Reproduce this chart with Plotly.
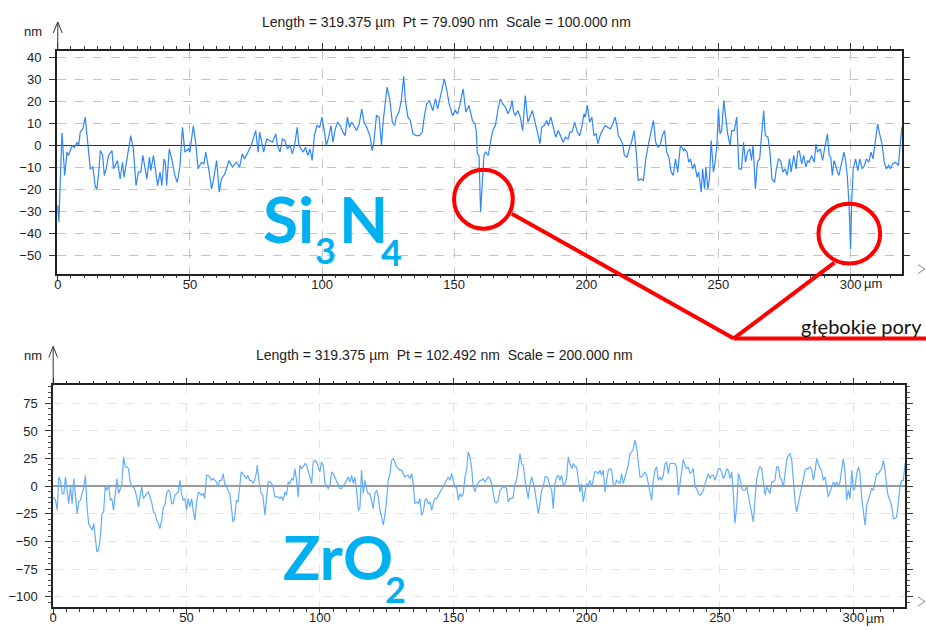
import plotly.graph_objects as go

# ---------------- data ----------------
# Si3N4 profile: position along scan [µm] and height [nm]
si_x = [
    0, 0.4, 1.6, 2.6, 3.5, 4.1, 5.4, 6.3, 7.3, 7.9,
    8.5, 9.5, 10.4, 10.8, 11.3, 12.3, 13.3, 14.2, 14.8, 15.5,
    16.1, 17.0, 17.6, 18.3, 19.2, 20.5, 21.1, 22.1, 22.6, 23.6,
    24.5, 25.1, 26.4, 27.6, 28.6, 29.6, 30.5, 31.4, 32.2, 33.7,
    34.7, 35.2, 36.2, 37.8, 38.7, 39.4, 40.2, 40.7, 41.2, 42.2,
    43.1, 44.3, 45.2, 46.2, 47.2, 48.1, 49.4, 50.0, 51.3, 52.3,
    53.1, 54.4, 55.3, 56.0, 57.3, 58.2, 59.0, 60.1, 61.1, 61.9,
    63.2, 64.8, 66.1, 67.6, 68.8, 69.8, 70.7, 72.0, 73.2, 74.9,
    75.8, 76.4,
    77.9, 79.1, 80.0, 81.25, 82.5, 83.1, 84.1, 85.0, 85.9, 86.9,
    87.9, 88.75, 89.6, 90.6, 91.25, 92.1, 92.9, 93.75, 94.6, 95.4,
    96.25, 97.1, 98.1, 99.1, 100, 100.9, 101.6, 102.5, 103.4, 104.1,
    105, 105.9, 106.9, 107.9, 108.75, 109.6, 110.4, 111.25, 112.1, 113.1,
    114.1, 115, 115.9, 116.9, 118.1, 119, 119.6, 120.6, 121.6, 122.5,
    123.1, 123.75, 124.6, 125.6, 126.6, 127.5, 128.1, 129.1, 130, 130.9,
    131.6, 132.5, 133.4, 134.4, 135.6, 136.9, 137.9, 138.75, 139.6, 140.6,
    141.9, 142.9, 143.75, 144.6, 145.4, 146.25, 147.1, 148.1, 149.4, 150.4,
    151.25, 152.1, 153.4, 154.4, 155.6,
    156.9, 157.9, 158.4, 158.75, 159.4, 160, 160.6, 161.25, 161.9, 162.9,
    163.75, 164.6, 165.6, 166.6, 167.5, 168.4, 169.4, 170.4, 171.25, 171.9,
    172.5, 173.1, 174.1, 175, 175.9, 176.9, 177.9, 178.75, 179.6, 180.6,
    181.6, 182.5, 183.1, 184.1, 185, 185.6, 186.6, 187.5, 188.4, 189.4,
    190.4, 191.25, 192.1, 193.1, 193.75, 194.6, 195.6, 196.6, 197.5, 198.4,
    199.1, 199.6, 200.4, 201.25, 202.1, 202.9, 203.75, 204.4, 205.4, 206.25,
    207.1, 208.1, 209.1, 210, 210.9, 211.6, 212.1, 212.9, 213.75, 214.4,
    215.4, 216.25, 217.1, 218.1, 219, 219.6, 220.6, 221.6, 222.5, 223.4,
    224.4, 225.4, 226.25, 227.1, 227.9, 228.75, 229.6, 230.4, 231.25, 232.1,
    232.9, 233.75, 234.6, 235.6,
    236.9, 237.25, 238.1, 238.75, 239.4, 240.25, 241, 241.9, 242.5, 243.5,
    244, 244.75, 245.25, 246, 246.6, 247.25, 248.1, 248.75, 249.4, 250,
    250.6, 251.25, 252, 252.75, 253.5, 254.4, 255, 256, 256.9, 257.75,
    258.75, 259.5, 260.25, 261, 261.9, 262.5, 263.1, 264, 264.75, 265.6,
    266.25, 267.1, 267.75, 268.75, 269.5, 270.25, 271.25, 271.9, 272.75, 273.5,
    274.4, 275.25, 276, 276.9, 277.5, 278.5, 279.4, 280, 280.6, 281.5,
    282.25, 283.1, 283.75, 284.4, 285.25, 286.25, 286.9, 287.5, 288.5, 289.4,
    290.25, 291.25, 291.9, 292.5, 293.1, 293.75, 294.4, 295, 295.6, 296.5,
    297.5, 298.1, 298.75, 299.4, 300, 300.4, 301, 301.9, 302.75, 303.5,
    304.4, 305.25, 306, 306.9, 307.75, 308.5, 309.4, 310.25, 311, 311.9,
    312.75, 313.5, 314.4, 315, 316, 316.9, 317.5, 318.1, 318.75, 319.4,
]
si_z = [
    -27.3, -34.8, 5.8, -13.6, -3.0, -4.5, 0, -0.8, 1.5, 0,
    6.1, 7.6, 12.9, 7.6, 0, -10.6, -9.8, -18.9, -19.7, -12.1,
    -2.3, -4.5, -13.6, -10.6, -4.5, -2.3, -10.6, -8.3, -6.8, -15.2,
    -7.6, -14.4, -4.5, 4.5, -1.5, -18.2, -12.1, -12.1, -4.5, -15.2,
    -5.3, -11.4, -4.5, -18.2, -12.1, -18.2, -6.1, -7.6, -18.2, -1.5,
    -6.1, -13.6, -16.7, -9.8, 8.3, -3.0, -1.5, -3.0, 9.1, 0,
    -10.6, -7.6, -8.3, -3.0, -12.1, -19.7, -15.2, -6.8, -21.2, -15.2,
    -12.9, -6.8, -9.8, -7.6, -9.8, -3.8, -6.1, -3.0, 0, 6.8,
    -3.0, 6.1,
    -3.0, 3.0, 2.3, 1.5, 5.3, 0, -3.0, 3.0, 2.3, -1.5,
    0, -3.8, 0, 8.3, 0, -1.5, -3.0, -0.8, -4.5, -1.5,
    -6.8, 4.5, 9.1, 8.3, 12.9, 6.1, 0, 3.8, 9.1, 1.5,
    7.6, 10.6, 9.1, 6.1, 4.5, 12.9, 8.3, 10.6, 9.1, 6.8,
    9.8, 16.7, 10.6, 8.3, 4.5, -2.3, 1.5, 13.6, 12.9, 0,
    10.6, 17.4, 26.5, 21.2, 10.6, 9.1, 12.9, 15.2, 20.5, 31.5,
    19.7, 12.9, 11.4, 5.3, 4.5, 4.5, 6.1, 13.6, 18.9, 20.5,
    15.9, 21.2, 16.7, 21.2, 25.8, 30.3, 25.8, 18.9, 13.6, 15.9,
    14.4, 18.2, 25.8, 15.2, 18.2,
    11.4, 9.8, 6.1, -3.8, -4.5, -30.3, -16.7, -4.5, -3.0, -4.5,
    1.5, 6.8, 9.1, 16.7, 21.2, 18.9, 17.4, 14.4, 16.7, 20.5,
    15.2, 13.6, 15.9, 12.9, 6.8, 22.7, 10.6, 12.9, 15.9, 10.6,
    5.3, 0.8, 8.3, 9.1, 11.4, 9.1, 12.9, 8.3, 3.8, 6.8,
    3.8, 1.5, 3.8, 3.0, 6.1, 6.1, 10.6, 6.1, 4.5, 9.1,
    14.4, 12.9, 18.2, 10.6, 12.9, 4.5, 5.3, 0.8, 5.3, 7.6,
    9.1, 8.3, 7.6, 9.8, 12.9, 9.1, 4.5, 3.0, 0.8, -4.5,
    -5.3, -1.5, 1.5, 6.8, -4.5, -15.9, -15.2, -15.9, -6.1, 0,
    5.3, 11.4, 1.5, -0.8, 0, 4.5, 6.8, -3.0, -5.3, -12.1,
    -13.6, -6.1, -12.1, 0,
    -2.3, -1.5, -3.0, -7.6, -6.1, -10.6, -8.3, -14.4, -12.1, -21.2,
    -10.6, -19.7, -9.8, -19.7, -15.2, 2.3, -12.1, -7.6, 0, 16.7,
    5.3, 6.8, 20.5, 13.6, 5.3, 0, 6.8, 6.8, 12.9, -10.6,
    -10.6, 1.5, -7.6, -3.0, -1.5, -6.8, 0, -19.7, -7.6, -6.1,
    4.5, 15.9, 4.5, 3.8, -3.0, -15.2, -16.7, -10.6, -6.1, -6.8,
    -12.1, -10.6, -13.6, -6.1, -12.1, -4.5, -10.6, -3.0, -2.3, -8.3,
    -4.5, -9.8, -6.8, -7.6, -4.5, -7.6, 0.8, -3.0, -1.5, -6.8,
    -0.8, 5.3, -4.5, -5.3, -13.6, -6.8, -9.1, -12.1, -13.6, -8.3,
    -3.0, -6.8, -13.6, -26.5, -47.0, -26.5, -10.6, -6.1, -11.4, -6.1,
    -10.6, -9.1, -6.1, -7.6, -3.0, -6.1, 3.0, 9.8, 5.3, 0.8,
    -7.6, -10.6, -9.1, -10.6, -8.3, -7.6, -8.3, -9.1, 0, 8.3,
]

# ZrO2 profile: position along scan [µm] and height [nm]
zr_x = [
    0.0, 0.9, 1.5, 2.1, 2.7, 3.4, 4.0, 4.6, 5.2, 5.8,
    6.5, 7.1, 7.7, 8.3, 9.0, 9.6, 10.2, 10.8, 11.4, 12.1,
    12.7, 13.3, 13.9, 14.6, 15.2, 15.8, 16.4, 17.0, 17.7, 18.3,
    18.9, 19.5, 20.1, 20.8, 21.4, 22.0, 22.6, 23.3, 23.9, 24.5,
    25.1, 25.7, 26.4, 27.0, 27.6, 28.2, 28.9, 29.5, 30.1, 30.7,
    31.3, 32.0, 32.6, 33.2, 33.8, 34.5, 35.1, 35.7, 36.3, 36.9,
    37.6, 38.2, 38.8, 39.4, 40.0, 40.7, 41.3, 41.9, 42.5, 43.2,
    43.8, 44.4, 45.0, 45.6, 46.3, 46.9, 47.5, 48.1, 48.8, 49.4,
    50.0, 50.6, 51.2, 51.9, 52.5, 53.1, 53.7, 54.4, 55.0, 55.6,
    56.2, 56.8, 57.5, 58.1, 58.7, 59.3, 60.0, 60.6, 61.2, 61.8,
    62.4, 63.1, 63.7, 64.3, 64.9, 65.5, 66.2, 66.8, 67.4, 68.0,
    68.7, 69.3, 69.9, 70.5, 71.1, 71.8, 72.4, 73.0, 73.6, 74.3,
    74.9, 75.5, 76.1, 76.5, 77.1, 78.0, 78.6,
    79.4, 80, 80.6, 81.25, 81.9, 82.5, 83.1, 83.75, 84.4, 85,
    85.6, 86.25, 86.9, 87.5, 88.1, 88.75, 89.4, 90, 90.6, 91.25,
    91.9, 92.5, 93.1, 93.75, 94.4, 95, 95.6, 96.25, 96.9, 97.5,
    98.1, 98.75, 99.4, 100, 100.6, 101.25, 101.9, 102.5, 103.1, 103.75,
    104.4, 105, 105.6, 106.25, 106.9, 107.5, 108.1, 108.75, 109.4, 110,
    110.6, 111.25, 111.9, 112.5, 113.1, 113.75, 114.4, 115, 115.6, 116.25,
    116.9, 117.5, 118.1, 118.75, 119.4, 120, 120.6, 121.25, 121.9, 122.5,
    123.1, 123.75, 124.4, 125, 125.6, 126.25, 126.9, 127.5, 128.1, 128.75,
    129.4, 130, 130.6, 131.25, 131.9, 132.5, 133.1, 133.75, 134.4, 135,
    135.6, 136.25, 136.9, 137.5, 138.1, 138.75, 139.4, 140, 140.6, 141.25,
    141.9, 142.5, 143.1, 143.75, 144.4, 145, 145.6, 146.25, 146.9, 147.5,
    148.1, 148.75, 149.4, 150, 150.6, 151.25, 151.9, 152.5, 153.1, 153.75,
    154.4, 155, 155.6, 156.25, 156.9,
    157.5, 158.1, 158.75, 159.4, 160, 160.6, 161.25, 161.9, 162.5, 163.1,
    163.75, 164.4, 165, 165.6, 166.25, 166.9, 167.5, 168.1, 168.75, 169.4,
    170, 170.6, 171.25, 171.9, 172.5, 173.1, 173.75, 174.4, 175, 175.6,
    176.25, 176.9, 177.5, 178.1, 178.75, 179.4, 180, 180.6, 181.25, 181.9,
    182.5, 183.1, 183.75, 184.4, 185, 185.6, 186.25, 186.9, 187.5, 188.1,
    188.75, 189.4, 190, 190.6, 191.25, 191.9, 192.5, 193.1, 193.75, 194.4,
    195, 195.6, 196.25, 196.9, 197.5, 198.1, 198.75, 199.4, 200, 200.6,
    201.25, 201.9, 202.5, 203.1, 203.75, 204.4, 205, 205.6, 206.25, 206.9,
    207.5, 208.1, 208.75, 209.4, 210, 210.6, 211.25, 211.9, 212.5, 213.1,
    213.75, 214.4, 215, 215.6, 216.25, 216.9, 217.5, 218.1, 218.75, 219.4,
    220, 220.6, 221.25, 221.9, 222.5, 223.1, 223.75, 224.4, 225, 225.6,
    226.25, 226.9, 227.5, 228.1, 228.75, 229.4, 230, 230.6, 231.25, 231.9,
    232.5, 233.1, 233.75, 234.4, 235, 235.6,
    236.25, 236.9, 237.5, 238.1, 238.75, 239.4, 240, 240.6, 241.25, 241.9,
    242.5, 243.1, 243.75, 244.4, 245, 245.6, 246.25, 246.9, 247.5, 248.1,
    248.75, 249.4, 250, 250.6, 251.25, 251.9, 252.5, 253.1, 253.75, 254.4,
    255, 255.6, 256.25, 256.9, 257.5, 258.1, 258.75, 259.4, 260, 260.6,
    261.25, 261.9, 262.5, 263.1, 263.75, 264.4, 265, 265.6, 266.25, 266.9,
    267.5, 268.1, 268.75, 269.4, 270, 270.6, 271.25, 271.9, 272.5, 273.1,
    273.75, 274.4, 275, 275.6, 276.25, 276.9, 277.5, 278.1, 278.75, 279.4,
    280, 280.6, 281.25, 281.9, 282.5, 283.1, 283.75, 284.4, 285, 285.6,
    286.25, 286.9, 287.5, 288.1, 288.75, 289.4, 290, 290.6, 291.25, 291.9,
    292.5, 293.1, 293.75, 294.4, 295, 295.6, 296.25, 296.9, 297.5, 298.1,
    298.75, 299.4, 300, 300.6, 301.25, 301.9, 302.5, 303.1, 303.75, 304.4,
    305, 305.6, 306.25, 306.9, 307.5, 308.1, 308.75, 309.4, 310, 310.6,
    311.25, 311.9, 312.5, 313.1, 313.75, 314.4, 315, 315.6, 316.25, 316.9,
    317.5, 318.1, 318.75, 319.4,
]
zr_z = [
    -9.6, -12.7, -21.7, 8.4, 5.4, -6.6, -6.6, 8.4, -3.6, -15.7,
    -0.6, -15.7, 6.9, -8.1, -24.7, -14.2, -12.7, -6.6, -2.1, 9.9,
    -18.7, -33.7, -36.7, -39.8, -33.7, -48.8, -59.3, -57.8, -45.8, -24.7,
    -23.2, -0.6, -3.6, 0.9, -12.7, -11.1, -21.7, -6.6, 6.9, -6.6,
    -3.6, 0.9, 26.5, 17.5, 17.5, 16.0, 3.9, -0.6, -0.6, -3.6,
    -9.6, -18.7, -8.1, -0.6, -11.1, -8.1, -6.6, -5.1, -9.6, -14.2,
    -23.2, -24.7, -30.7, -33.7, -38.3, -30.7, -18.7, -17.2, -6.6, -3.6,
    -5.1, -15.7, -15.7, -8.1, -6.6, -5.1, 5.4, -6.6, -12.7, -11.1,
    -21.7, -11.1, -18.7, -11.1, -21.7, -30.7, -15.7, -5.1, -6.6, -8.1,
    -6.6, -11.1, 9.9, 9.9, 8.4, 5.4, 6.9, 5.4, 3.9, -0.6,
    5.4, 5.4, 11.4, 2.4, 0.9, -3.6, -6.6, -18.7, -32.2, -29.2,
    -12.7, -14.2, -0.6, 13.0, 11.4, 8.4, 6.9, 9.9, 5.4, 5.4,
    2.4, 5.4, 11.4, 19.0, 5.4, -6.6, -8.1,
    -26.2, -12.7, 3.9, 3.9, 2.4, -0.6, -9.6, -9.6, -9.6, -11.1,
    -9.6, -12.7, -5.1, -8.1, 3.9, 2.4, 6.9, 5.4, 16, 5.4,
    -9.6, 19, 16, 17.5, 20.5, 19, 14.5, 8.4, 2.4, 22,
    23.5, 22, 17.5, 13, 22, 19, 2.4, -0.6, -2.1, 0.9,
    13, 11.4, 8.4, 5.4, 2.4, -2.1, -2.1, 0.9, 2.4, 5.4,
    8.4, 3.9, 9.9, 2.4, 8.4, -3.6, -21.7, -20.2, 14.5, -6.6,
    5.4, -2.1, -6.6, -6.6, -15.7, -20.2, -6.6, -3.6, -9.6, -21.7,
    -27.7, -35.2, -24.7, -12.7, 5.4, 11.4, 23.5, 25, 22, 17.5,
    16, 14.5, 14.5, 11.4, 8.4, 9.9, 9.9, 6.9, 11.4, 2.4,
    -15.7, -14.2, -15.7, -11.1, -26.2, -23.2, -12.7, -11.1, -15.7, -14.2,
    -21.7, -15.7, -11.1, -11.1, -8.1, -6.6, -3.6, -0.6, 2.4, 5.4,
    8.4, 5.4, 11.4, 5.4, -0.6, -0.6, -12.7, -6.6, -9.6, -6.6,
    8.4, 14.5, 31, 26.5, 16,
    -0.6, -5.1, 0.9, 3.9, 5.4, 5.4, 6.9, 3.9, 6.9, 8.4,
    6.9, 2.4, -6.6, -14.2, -15.1, -12.7, -3.6, -2.1, -0.6, -0.6,
    -2.1, -14.2, -11.1, -11.1, -9.6, 2.4, 5.4, 17.5, 29.5, 20.5,
    19, 5.4, -3.6, -11.1, 2.4, 8.4, 2.4, -3.6, -14.2, -24.7,
    -15.7, -3.6, -0.6, 8.4, 8.4, 6.9, -0.6, -3.6, -20.2, 2.4,
    8.4, 9.9, 5.4, 9.9, 0.9, 2.4, 6.9, 26.5, 20.5, 16,
    20.5, 17.5, 17.5, 3.9, -5.1, 2.4, -14.2, -5.1, 2.4, 0.9,
    5.4, -0.6, 5.4, 13, 13, 11.4, 14.5, 9.9, 14.5, -5.1,
    5.4, 14.5, 16, 14.5, 0.9, 0.9, 5.4, 3.9, 2.4, 11.4,
    2.4, 8.4, 14.5, 19, 29.5, 31, 34, 41.6, 35.5, 20.5,
    8.4, 8.4, 11.4, 13, 9.9, 2.4, -5.1, -12.7, 5.4, 14.5,
    17.5, 5.4, 8.4, 5.4, 9.9, 20.5, 22, 11.4, 20.5, 21,
    20.5, 20.5, 17.5, -8.1, 2.4, 14.5,
    24.1, 19, 16, 17.5, 11.4, 13, 16, -0.6, -2.1, -6.6,
    -8.1, -6.6, -3.6, 2.4, 6.9, 11.4, 6.9, 9.9, 9.9, 5.4,
    9.9, 16, 16, 13, 6.9, 9.9, 16, 14.5, 6.9, 13,
    -6.6, -33.7, -18.7, 11.4, 6.9, -2.1, -3.6, -3.6, -0.6, -8.1,
    -18.7, -24.7, -32.2, -12.7, 5.4, 14.5, 17.5, 16, 5.4, -8.1,
    -0.6, -3.6, -6.6, 3.9, 3.9, 5.4, 17.5, 17.5, 8.4, 5.4,
    -0.6, 11.4, 23.5, 28, 29.5, 23.5, 5.4, -12.7, -23.2, -15.7,
    -8.1, -3.6, 5.4, 14.5, 16, 16, 17.5, 14.5, 5.4, 13,
    25, 20.5, 16, 14.5, 5.4, 8.4, -0.6, -9.6, -5.1, -0.6,
    3.9, 0.9, 3.9, -0.6, 3.9, 14.5, 25, 11.4, -12.7, -3.6,
    -11.1, 14.5, -3.6, -2.1, 11.4, 17.5, 11.4, -9.6, -23.2, -35.2,
    -17.2, -12.7, -6.6, -2.1, -3.6, 5.4, 11.4, 11.4, 14.5, 16,
    23.5, 14.5, -0.6, -9.6, -12.7, -18.7, -29.2, -29.2, -27.7, -12.7,
    -0.6, 5.4, 5.4, 20.5,
]

assert len(si_x) == len(si_z), (len(si_x), len(si_z))
assert len(zr_x) == len(zr_z), (len(zr_x), len(zr_z))

x_ticks = [0, 50, 100, 150, 200, 250, 300]
x_tick_text = ["0", "50", "100", "150", "200", "250", "300"]
si_y_ticks = [-50, -40, -30, -20, -10, 0, 10, 20, 30, 40]
zr_y_ticks = [-100, -75, -50, -25, 0, 25, 50, 75]

title_si = "Length = 319.375 µm\u00a0\u00a0Pt = 79.090 nm\u00a0\u00a0Scale = 100.000 nm"
title_zr = "Length = 319.375 µm\u00a0\u00a0Pt = 102.492 nm\u00a0\u00a0Scale = 200.000 nm"

# ---------------- figure ----------------
W, H = 926, 630


def px(x):
    return x / W


def py(y):
    return 1 - y / H


AX_FONT = "Liberation Sans, Arial, sans-serif"
tick_font = dict(family=AX_FONT, size=13, color="#222")

fig = go.Figure()
fig.add_trace(go.Scatter(x=si_x, y=si_z, mode="lines",
                         line=dict(color="#2e86f7", width=1.2),
                         xaxis="x", yaxis="y", showlegend=False, hoverinfo="skip"))
fig.add_trace(go.Scatter(x=zr_x, y=zr_z, mode="lines",
                         line=dict(color="#62acfc", width=1.2),
                         xaxis="x2", yaxis="y2", showlegend=False, hoverinfo="skip"))


def xaxis_style(domain, rng, anchor, gridcolor):
    return dict(domain=domain, range=rng, anchor=anchor,
                tickmode="array", tickvals=x_ticks, ticktext=x_tick_text,
                ticks="outside", ticklen=6, tickwidth=1, tickcolor="#333",
                ticklabelstandoff=-8,
                showline=True, linecolor="#222", linewidth=1.5, mirror="allticks",
                showgrid=True, gridcolor=gridcolor, griddash="dash", gridwidth=1,
                minor=dict(tick0=0, dtick=5, ticks="outside", ticklen=3,
                           tickcolor="#333", showgrid=False),
                zeroline=False, tickfont=tick_font, fixedrange=True)


fig.update_layout(
    width=W, height=H,
    margin=dict(l=0, r=0, t=0, b=0),
    paper_bgcolor="white", plot_bgcolor="white",
    showlegend=False,
    xaxis=xaxis_style([px(53), px(902)], [-0.38, 319.5], "y", "#c4c4c4"),
    yaxis=dict(domain=[py(273), py(50)], range=[-58.2, 43.0], anchor="x",
               tickmode="array", tickvals=si_y_ticks,
               ticks="outside", ticklen=6, tickcolor="#333", ticklabelstandoff=5,
               showline=True, linecolor="#222", linewidth=1.5, mirror="allticks",
               showgrid=True, gridcolor="#c4c4c4", griddash="dash",
               zeroline=True, zerolinecolor="#333", zerolinewidth=1,
               tickfont=tick_font, fixedrange=True),
    xaxis2=xaxis_style([px(49.4), px(905)], [0, 319.4], "y2", "#e4e4e4"),
    yaxis2=dict(domain=[py(607), py(385)], range=[-109.2, 91.2], anchor="x2",
                tickmode="array", tickvals=zr_y_ticks,
                ticks="outside", ticklen=6, tickcolor="#333", ticklabelstandoff=5,
                minor=dict(tick0=0, dtick=5, ticks="outside", ticklen=3,
                           tickcolor="#555", showgrid=False),
                showline=True, linecolor="#222", linewidth=1.5, mirror="allticks",
                showgrid=True, gridcolor="#e4e4e4", griddash="dash",
                zeroline=True, zerolinecolor="#9a9a9a", zerolinewidth=1.5,
                tickfont=tick_font, fixedrange=True),
)

ann = []
small = dict(family=AX_FONT, size=13, color="#222")
title_font = dict(family=AX_FONT, size=14, color="#222")
ann.append(dict(text=title_si, x=px(444), y=py(21), xref="paper", yref="paper",
                showarrow=False, font=title_font, xanchor="center", yanchor="middle"))
ann.append(dict(text=title_zr, x=px(442), y=py(355), xref="paper", yref="paper",
                showarrow=False, font=title_font, xanchor="center", yanchor="middle"))
ann.append(dict(text="nm", x=px(40), y=py(31), xref="paper", yref="paper",
                showarrow=False, font=small, xanchor="right", yanchor="middle"))
ann.append(dict(text="nm", x=px(40), y=py(355), xref="paper", yref="paper",
                showarrow=False, font=small, xanchor="right", yanchor="middle"))
ann.append(dict(text="µm", x=px(862), y=py(283), xref="paper", yref="paper",
                showarrow=False, font=small, xanchor="left", yanchor="middle"))
ann.append(dict(text="µm", x=px(864), y=py(618), xref="paper", yref="paper",
                showarrow=False, font=small, xanchor="left", yanchor="middle"))

CYAN = "#00b0f0"
BIG = "Lato, Open Sans, sans-serif"


def label(text, x, y, size):
    return dict(text="<b>%s</b>" % text, x=px(x), y=py(y), xref="paper", yref="paper",
                showarrow=False, xanchor="left", yanchor="middle", borderpad=0,
                font=dict(family=BIG, size=size, color=CYAN))


ann += [label("Si", 259, 218, 64), label("3", 311, 249, 36),
        label("N", 335, 218, 64), label("4", 378, 251, 36),
        label("ZrO", 279, 556, 62), label("2", 382, 589, 36)]

ann.append(dict(text="głębokie pory", x=px(924), y=py(326), xref="paper", yref="paper",
                showarrow=False, xanchor="right", yanchor="middle",
                font=dict(family="Lato, Open Sans, sans-serif", size=20, color="#111")))
fig.update_layout(annotations=ann)

RED = "#ff0000"
shapes = [
    dict(type="circle", xref="paper", yref="paper", x0=px(452), x1=px(511),
         y0=py(228), y1=py(169), line=dict(color=RED, width=4)),
    dict(type="circle", xref="paper", yref="paper", x0=px(818), x1=px(880),
         y0=py(263), y1=py(203), line=dict(color=RED, width=4)),
    dict(type="line", xref="paper", yref="paper", x0=px(510), y0=py(213),
         x1=px(733), y1=py(338), line=dict(color=RED, width=4)),
    dict(type="line", xref="paper", yref="paper", x0=px(834), y0=py(262),
         x1=px(733), y1=py(338), line=dict(color=RED, width=4)),
    dict(type="line", xref="paper", yref="paper", x0=px(733), y0=py(338),
         x1=px(926), y1=py(338), line=dict(color=RED, width=4)),
]


def path(points):
    return "M " + " L ".join("%f %f" % (px(a), py(b)) for a, b in points)


AXC = "#333"
shapes += [
    dict(type="line", xref="paper", yref="paper", x0=px(54), y0=py(50), x1=px(54), y1=py(21),
         line=dict(color=AXC, width=1)),
    dict(type="path", xref="paper", yref="paper", path=path([(49.5, 32), (54, 21), (58.5, 32)]),
         line=dict(color=AXC, width=1)),
    dict(type="line", xref="paper", yref="paper", x0=px(49.4), y0=py(385), x1=px(49.4), y1=py(346),
         line=dict(color=AXC, width=1)),
    dict(type="path", xref="paper", yref="paper", path=path([(45, 357), (49.4, 346), (53.8, 357)]),
         line=dict(color=AXC, width=1)),
    dict(type="path", xref="paper", yref="paper", path=path([(918, 264), (925, 268.5), (918, 273)]),
         line=dict(color="#888", width=1)),
    dict(type="path", xref="paper", yref="paper", path=path([(918, 597), (925, 601.5), (918, 606)]),
         line=dict(color="#888", width=1)),
]
fig.update_layout(shapes=shapes)

page_fix = (
    "var s=document.createElement('style');"
    "s.textContent='html,body{margin:0;padding:0;overflow:hidden;height:630px;width:926px;}"
    "body>div{height:630px;width:926px;overflow:hidden;display:block;}';"
    "document.head.appendChild(s);"
)
fig.write_html("out.html", config={"displayModeBar": False}, post_script=page_fix)
